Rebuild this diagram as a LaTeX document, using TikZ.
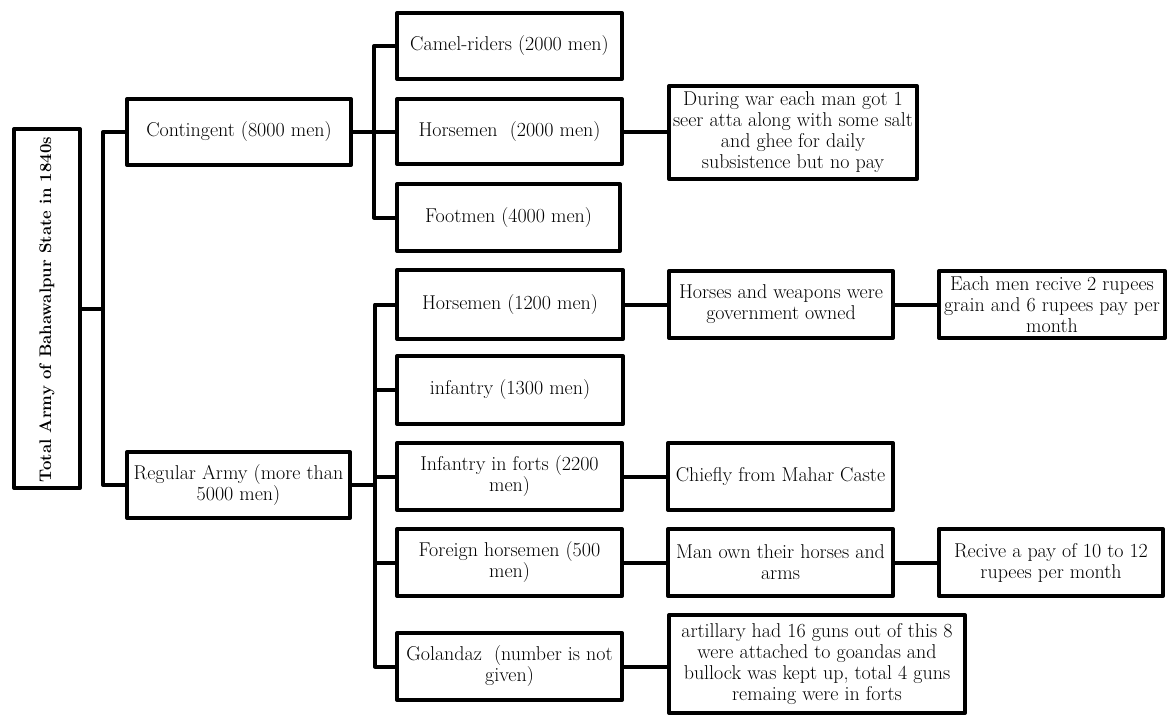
\documentclass[tikz,border=0pt]{standalone}
\begin{document}
\begin{tikzpicture}[x=1pt,y=-1pt,
  lw/.style={line width=4pt},
  bx/.style={draw,lw,line join=round,inner sep=1pt,align=center,
    minimum width=225pt,minimum height=67pt,
    font=\fontsize{20}{21}\selectfont},
  conn/.style={lw,line join=round}]
\useasboundingbox (0,0) rectangle (1173,717);
% root
\node[bx,minimum width=66pt,minimum height=359pt] (root) at (47,308.5) {};
\node[rotate=90,font=\bfseries\fontsize{16.8}{20}\selectfont] (roottxt) at (47,309.5) {Total Army of Bahawalpur State in 1840s};
% level 1
\node[bx,minimum width=224pt,minimum height=66pt] (cont) at (239,132) {Contingent (8000 men)};
\node[bx,minimum width=223pt,minimum height=66pt] (reg) at (238.5,485) {Regular Army (more than\\5000 men)};
% contingent children
\node[bx,minimum height=66pt] (camel) at (509.5,46) {Camel-riders (2000 men)};
\node[bx,minimum height=65pt] (hm2) at (509.5,131.5) {Horsemen\ \ (2000 men)};
\node[bx,minimum width=223pt] (foot) at (508.5,217.5) {Footmen (4000 men)};
\node[bx,minimum width=248pt,minimum height=93pt] (war) at (793,132.5) {During war each man got 1\\seer atta along with some salt\\and ghee for daily\\subsistence but no pay};
% regular children
\node[bx,minimum width=226pt,minimum height=69pt] (hm1) at (510,304.5) {Horsemen (1200 men)};
\node[bx,minimum width=226pt,minimum height=68pt] (inf) at (510,390) {infantry (1300 men)};
\node[bx] (forts) at (509.5,476.5) {Infantry in forts (2200\\men)};
\node[bx] (foreign) at (509.5,562.5) {Foreign horsemen (500\\men)};
\node[bx] (gol) at (509.5,666.5) {Golandaz\ \ (number is not\\given)};
% third level
\node[bx,minimum width=224pt] (horses) at (781,304.5) {Horses and weapons were\\government owned};
\node[bx,minimum width=226pt] (each) at (1052,304.5) {Each men recive 2 rupees\\grain and 6 rupees pay per\\month};
\node[bx] (chief) at (780.5,476.5) {Chiefly from Mahar Caste};
\node[bx] (manown) at (780.5,562.5) {Man own their horses and\\arms};
\node[bx,minimum width=224pt] (recive) at (1051,562.5) {Recive a pay of 10 to 12\\rupees per month};
\node[bx,minimum width=296pt,minimum height=98pt] (art) at (817,664) {artillary had 16 guns out of this 8\\were attached to goandas and\\bullock was kept up, total 4 guns\\remaing were in forts};
% junctions
\coordinate (j1) at (103,308.5);
\coordinate (j2) at (374,132);
\coordinate (j3) at (375,485);
% connectors
\draw[conn] (root.east) -- (j1);
\draw[conn] (cont.west) -| (j1) |- (reg.west);
\draw[conn] (cont.east) -- (j2);
\draw[conn] (camel.west) -| (j2) |- (foot.west);
\draw[conn] (j2) -- (hm2.west |- j2);
\draw[conn] (reg.east) -- (j3);
\draw[conn] (hm1.west) -| (j3) |- (gol.west);
\draw[conn] (inf.west) -- (inf.west -| j3);
\draw[conn] (forts.west) -- (forts.west -| j3);
\draw[conn] (foreign.west) -- (foreign.west -| j3);
\draw[conn] (hm2.east) -- (hm2.east -| war.west);
\draw[conn] (hm1.east) -- (horses.west);
\draw[conn] (horses.east) -- (each.west);
\draw[conn] (forts.east) -- (chief.west);
\draw[conn] (foreign.east) -- (manown.west);
\draw[conn] (manown.east) -- (recive.west);
\draw[conn] (gol.east) -- (gol.east -| art.west);
\end{tikzpicture}
\end{document}
